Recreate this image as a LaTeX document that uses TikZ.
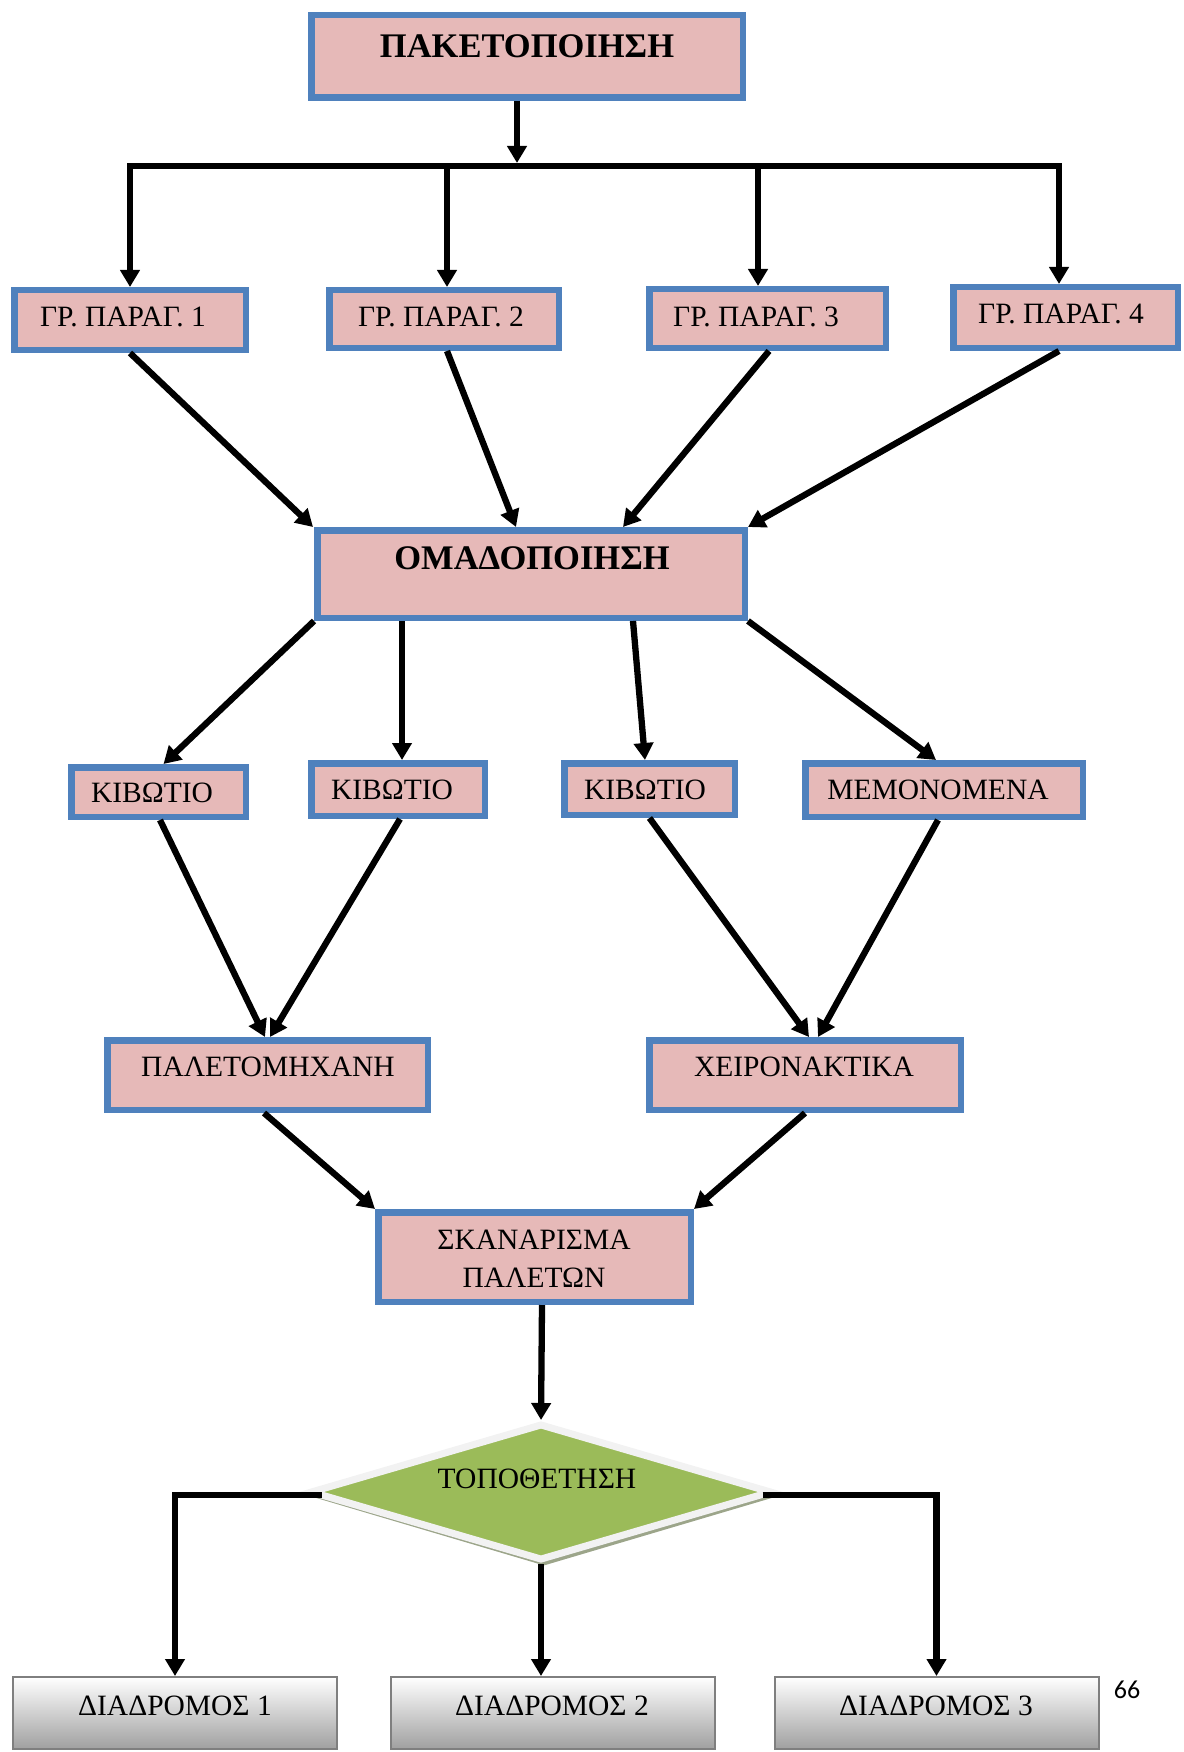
\documentclass[tikz,border=0pt]{standalone}
\usepackage{fontspec}
\setmainfont{Liberation Serif}
\newfontfamily\pagenumfont{Carlito}
\usetikzlibrary{arrows.meta,shapes.geometric}
\definecolor{boxfill}{HTML}{E6B9B8}
\definecolor{boxline}{HTML}{4F81BD}
\definecolor{dgreen}{HTML}{9BBB59}
\definecolor{drim}{HTML}{F2F2F2}
\definecolor{dshadow}{HTML}{9CA58A}
\definecolor{routeline}{HTML}{7F7F7F}
\definecolor{routebot}{HTML}{A0A0A0}
\begin{document}
\begin{tikzpicture}[x=1pt,y=-1pt,
  box/.style={draw=boxline, fill=boxfill, line width=6.5pt, inner sep=0pt},
  routebox/.style={draw=routeline, line width=2pt, top color=white, bottom color=routebot,
    inner sep=0pt, minimum width=324pt, minimum height=72pt},
  lbl/.style={font=\fontsize{29.5}{36}\selectfont, inner sep=0pt, text height=19.3pt, text depth=0pt},
  blbl/.style={font=\bfseries\fontsize{34.5}{40}\selectfont, inner sep=0pt, text height=22.6pt, text depth=0pt},
  conn/.style={line width=6.3pt},
  arr/.style={conn, -{Triangle[length=17pt,width=19pt]}},
]
\useasboundingbox (0,0) rectangle (1183,1752);

% boxes
\node[box, minimum width=431.5pt, minimum height=82.5pt] (pak) at (527,56.5) {};
\node[box, minimum width=231.5pt, minimum height=59.5pt] (gp1) at (130,320) {};
\node[box, minimum width=229.5pt, minimum height=57.5pt] (gp2) at (444,319) {};
\node[box, minimum width=236.5pt, minimum height=58.5pt] (gp3) at (767.5,318.5) {};
\node[box, minimum width=224.5pt, minimum height=60.5pt] (gp4) at (1065.5,317.5) {};
\node[box, minimum width=427.5pt, minimum height=87.5pt] (omad) at (531,574) {};
\node[box, minimum width=174.5pt, minimum height=49.5pt] (kib1) at (158.5,792) {};
\node[box, minimum width=173.5pt, minimum height=52.5pt] (kib2) at (398,789.5) {};
\node[box, minimum width=170.5pt, minimum height=51.5pt] (kib3) at (649.5,789) {};
\node[box, minimum width=277.5pt, minimum height=53.5pt] (mem) at (944,790) {};
\node[box, minimum width=320.5pt, minimum height=69.5pt] (pal) at (267.5,1075) {};
\node[box, minimum width=311.5pt, minimum height=69.5pt] (xeir) at (805,1075) {};
\node[box, minimum width=312.5pt, minimum height=89.5pt] (skan) at (534.5,1257) {};

% decision diamond with its shadow
\node[diamond, draw=none, fill=dshadow, minimum width=462pt, minimum height=137pt, inner sep=0pt] (diashadow) at (544,1497) {};
\node[diamond, draw=drim, fill=dgreen, line width=7pt, minimum width=462pt, minimum height=137pt, inner sep=0pt] (dia) at (541,1492) {};

% route boxes
\node[routebox] (d1) at (175,1713) {};
\node[routebox] (d2) at (552.5,1713) {};
\node[routebox] (d3) at (936.5,1713) {};

% labels
\node[blbl] (pakT) at (527,46) {ΠΑΚΕΤΟΠΟΙΗΣΗ};
\node[lbl] (gp1T) at (123,317) {ΓΡ. ΠΑΡΑΓ. 1};
\node[lbl] (gp2T) at (441,317) {ΓΡ. ΠΑΡΑΓ. 2};
\node[lbl] (gp3T) at (756,317) {ΓΡ. ΠΑΡΑΓ. 3};
\node[lbl] (gp4T) at (1061,314) {ΓΡ. ΠΑΡΑΓ. 4};
\node[blbl] (omadT) at (532,558) {ΟΜΑΔΟΠΟΙΗΣΗ};
\node[lbl] (kib1T) at (152,793) {ΚΙΒΩΤΙΟ};
\node[lbl] (kib2T) at (392,790) {ΚΙΒΩΤΙΟ};
\node[lbl] (kib3T) at (645,790) {ΚΙΒΩΤΙΟ};
\node[lbl] (memT) at (938,790) {ΜΕΜΟΝΟΜΕΝΑ};
\node[lbl] (palT) at (268,1067) {ΠΑΛΕΤΟΜΗΧΑΝΗ};
\node[lbl] (xeirT) at (804,1067) {ΧΕΙΡΟΝΑΚΤΙΚΑ};
\node[font=\fontsize{29.5}{38}\selectfont, inner sep=0pt, align=center] (skanT) at (534,1259) {ΣΚΑΝΑΡΙΣΜΑ\\ΠΑΛΕΤΩΝ};
\node[lbl] (diaT) at (537,1479) {ΤΟΠΟΘΕΤΗΣΗ};
\node[lbl] (d1T) at (175,1706) {ΔΙΑΔΡΟΜΟΣ 1};
\node[lbl] (d2T) at (552,1706) {ΔΙΑΔΡΟΜΟΣ 2};
\node[lbl] (d3T) at (936,1706) {ΔΙΑΔΡΟΜΟΣ 3};
\node[font=\pagenumfont\fontsize{26}{30}\selectfont, inner sep=0pt] (pagenum) at (1127,1690) {66};

% distribution bus
\coordinate (bus0) at (517,163);
\coordinate (bus1) at (130,166);
\coordinate (bus2) at (447,166);
\coordinate (bus3) at (758,166);
\coordinate (bus4) at (1059,166);
\draw[arr] ([xshift=-10pt]pak.south) -- (bus0);
\draw[conn, line cap=rect] (bus1) -- (bus4);
\draw[arr] (bus1) -- (bus1 |- gp1.north);
\draw[arr] (bus2) -- (bus2 |- gp2.north);
\draw[arr] (bus3) -- (bus3 |- gp3.north);
\draw[arr] (bus4) -- (bus4 |- gp4.north);

% producer groups into grouping
\draw[arr] (gp1.south) -- ([xshift=-1pt]omad.north west);
\draw[arr] ([xshift=3pt]gp2.south) -- ([xshift=-15pt]omad.north);
\draw[arr] ([xshift=1.5pt]gp3.south) -- ([xshift=92pt]omad.north);
\draw[arr] ([xshift=-6.5pt]gp4.south) -- (omad.north east);

% grouping into units
\draw[arr] (omad.south west) -- ([xshift=5pt]kib1.north);
\draw[arr] ([xshift=88pt]omad.south west) -- ([xshift=4pt]kib2.north);
\draw[arr] ([xshift=102pt]omad.south) -- ([xshift=-4.5pt]kib3.north);
\draw[arr] (omad.south east) -- ([xshift=-8pt]mem.north);

% units into palletising
\draw[arr] ([xshift=1.5pt]kib1.south) -- ([xshift=-2.5pt]pal.north);
\draw[arr] ([xshift=2pt]kib2.south) -- ([xshift=2.5pt]pal.north);
\draw[arr] (kib3.south) -- ([xshift=4pt]xeir.north);
\draw[arr] ([xshift=-6pt]mem.south) -- ([xshift=13pt]xeir.north);

% palletising into scanning
\draw[arr] ([xshift=-3.5pt]pal.south) -- (skan.north west);
\draw[arr] (xeir.south) -- (skan.north east);
\draw[arr] ([xshift=7.5pt]skan.south) -- (dia.north);

% placement into routes
\draw[arr] ([xshift=15pt,yshift=-3pt]dia.west) -| (d1.north);
\draw[arr] (dia.south) -- (dia.south |- d2.north);
\draw[arr] ([xshift=-13pt,yshift=-3pt]dia.east) -| (d3.north);
\end{tikzpicture}
\end{document}
